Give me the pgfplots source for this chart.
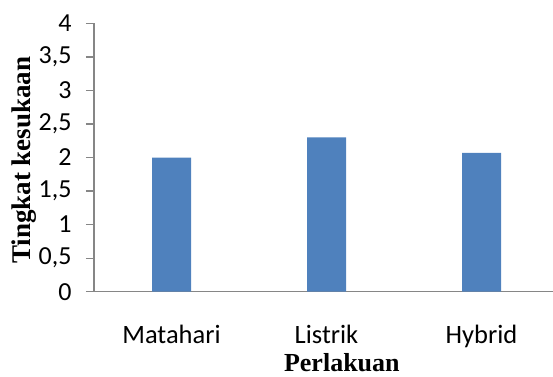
\documentclass[border=0pt]{standalone}
\usepackage{pgfplots}
\pgfplotsset{compat=1.18}
\usepackage{fontspec}
\setmainfont{Liberation Serif}
\newfontfamily\calibri{Carlito}
\definecolor{barblue}{HTML}{4F81BD}
\definecolor{axgray}{HTML}{868686}
\begin{document}
\begin{tikzpicture}[x=1pt,y=1pt]
\path[use as bounding box] (0,0) rectangle (553,376);
\begin{axis}[
  at={(94pt,84.3pt)}, anchor=south west,
  scale only axis, width=465pt, height=268.4pt,
  xmin=-0.5, xmax=2.5, ymin=0, ymax=4,
  axis x line*=bottom, axis y line*=left,
  axis line style={axgray, line width=1.3pt, -},
  ytick={0,0.5,...,4},
  xtick={0,1,2},
  xticklabels={Matahari,Listrik,Hybrid},
  x tick style={draw=none},
  y tick style={axgray, line width=1.3pt},
  major tick length=8pt, tick align=outside,
  /pgf/number format/use comma,
  /pgf/number format/assume math mode=true,
  yticklabel style={font=\calibri\fontsize{26}{26}\selectfont, xshift=-11pt},
  xticklabel style={font=\calibri\fontsize{26.5}{26.5}\selectfont, anchor=base, yshift=-44pt},
  xlabel={Perlakuan},
  ylabel={Tingkat kesukaan},
  xlabel style={font=\bfseries\fontsize{26}{26}\selectfont, at={(rel axis cs:0.533,-0.298)}, anchor=base},
  ylabel style={font=\bfseries\fontsize{27}{27}\selectfont, at={(rel axis cs:-0.1355,0.49)}, anchor=base},
  ybar, bar width=39pt,
]
\addplot[fill=barblue, draw=none] coordinates {(0,2.0) (1,2.3) (2,2.07)};
\end{axis}
\end{tikzpicture}
\end{document}
